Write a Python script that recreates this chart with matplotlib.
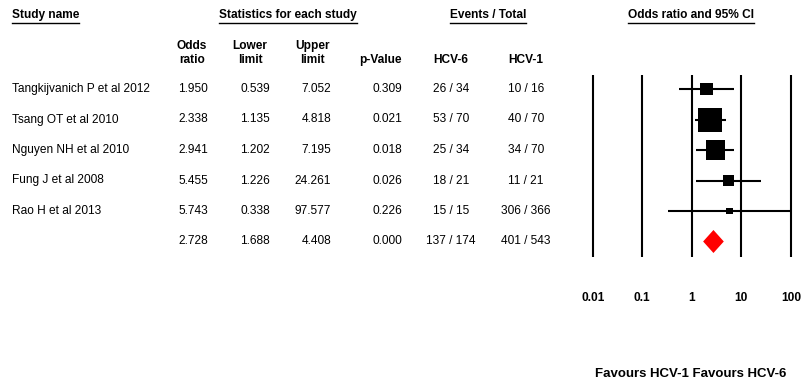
import numpy as np
import matplotlib
matplotlib.use("Agg")
from matplotlib import pyplot as plt
from matplotlib.lines import Line2D

plt.rcParams['font.family'] = ['Liberation Sans', 'DejaVu Sans']

# --- data ---
studies = ["Tangkijvanich P et al 2012", "Tsang OT et al 2010", "Nguyen NH et al 2010",
           "Fung J et al 2008", "Rao H et al 2013"]
odds_ratio = [1.950, 2.338, 2.941, 5.455, 5.743]
lower_limit = [0.539, 1.135, 1.202, 1.226, 0.338]
upper_limit = [7.052, 4.818, 7.195, 24.261, 97.577]
p_values = [0.309, 0.021, 0.018, 0.026, 0.226]
hcv6_events = [26, 53, 25, 18, 15]
hcv6_total = [34, 70, 34, 21, 15]
hcv1_events = [10, 40, 34, 11, 306]
hcv1_total = [16, 70, 70, 21, 366]
rel_weight = [13.2, 45.1, 28.3, 9.5, 3.8]  # relative weights (%)

pooled_or = 2.728
pooled_lower = 1.688
pooled_upper = 4.408
pooled_p = 0.000
pooled_hcv6 = (137, 174)
pooled_hcv1 = (401, 543)

tick_vals = [0.01, 0.1, 1, 10, 100]
tick_labels = ["0.01", "0.1", "1", "10", "100"]

# --- layout (pixels) ---
W, H = 806, 389
fig = plt.figure(figsize=(W / 100, H / 100), dpi=100)


def fx(x):
    return x / W


def fy(y):
    return 1 - y / H


FS = 8.6
row_y0, row_dy = 89, 30.5
row_px = [row_y0 + row_dy * i for i in range(6)]

# group headers with underlines
headers = [("Study name", 12, 'left'), ("Statistics for each study", 288, 'center'),
           ("Events / Total", 488, 'center'), ("Odds ratio and 95% CI", 691, 'center')]
hdr_texts = []
for txt, x, ha in headers:
    t = fig.text(fx(x), fy(15), txt, ha=ha, va='center', fontsize=FS, fontweight='bold')
    hdr_texts.append(t)

fig.canvas.draw()
rend = fig.canvas.get_renderer()
for t in hdr_texts:
    bb = t.get_window_extent(rend)
    x0, x1 = bb.x0 / W, bb.x1 / W
    fig.add_artist(Line2D([x0, x1], [fy(23), fy(23)], color='black', lw=1.0))

# column headers
col_heads = [(["Odds", "ratio"], 192), (["Lower", "limit"], 250), (["Upper", "limit"], 312),
             (["p-Value"], 380), (["HCV-6"], 451), (["HCV-1"], 526)]
for words, x in col_heads:
    ys = [46, 60] if len(words) == 2 else [60]
    for w, y in zip(words, ys):
        fig.text(fx(x), fy(y), w, ha='center', va='center', fontsize=FS, fontweight='bold')

# table rows
names = studies + [""]
ors = odds_ratio + [pooled_or]
los = lower_limit + [pooled_lower]
ups = upper_limit + [pooled_upper]
ps = p_values + [pooled_p]
e6 = [f"{e} / {t}" for e, t in zip(hcv6_events, hcv6_total)] + ["%d / %d" % pooled_hcv6]
e1 = [f"{e} / {t}" for e, t in zip(hcv1_events, hcv1_total)] + ["%d / %d" % pooled_hcv1]

for i, y in enumerate(row_px):
    fig.text(fx(12), fy(y), names[i], ha='left', va='center', fontsize=FS)
    fig.text(fx(208), fy(y), f"{ors[i]:.3f}", ha='right', va='center', fontsize=FS)
    fig.text(fx(270), fy(y), f"{los[i]:.3f}", ha='right', va='center', fontsize=FS)
    fig.text(fx(331), fy(y), f"{ups[i]:.3f}", ha='right', va='center', fontsize=FS)
    fig.text(fx(402), fy(y), f"{ps[i]:.3f}", ha='right', va='center', fontsize=FS)
    fig.text(fx(451), fy(y), e6[i], ha='center', va='center', fontsize=FS)
    fig.text(fx(526), fy(y), e1[i], ha='center', va='center', fontsize=FS)

# --- forest plot axes ---
x_lo_px, x_hi_px = 592.7, 791.0
dec = (x_hi_px - x_lo_px) / 4
ax_l, ax_r = 578, 805
ax_t, ax_b = 75, 257
ax = fig.add_axes([fx(ax_l), fy(ax_b), (ax_r - ax_l) / W, (ax_b - ax_t) / H])
ax.set_xscale('log')
ax.set_xlim(10 ** (-2 - (x_lo_px - ax_l) / dec), 10 ** (2 + (ax_r - x_hi_px) / dec))
ax.set_ylim((ax_b - row_y0) / row_dy, (ax_t - row_y0) / row_dy)
for s in ax.spines.values():
    s.set_visible(False)
ax.set_yticks([])
ax.set_xticks(tick_vals, tick_labels)
ax.minorticks_off()
ax.tick_params(axis='x', length=0, pad=25, labelsize=FS)
for lab in ax.get_xticklabels():
    lab.set_fontweight('bold')

for v in tick_vals:
    ax.axvline(v, color='black', lw=1.5)

rows = np.arange(len(studies))
ax.hlines(rows, lower_limit, upper_limit, color='black', lw=1.5, zorder=3)
side_px = 24 * np.sqrt(np.array(rel_weight) / max(rel_weight))
ax.scatter(odds_ratio, rows, marker='s', s=(side_px * 0.72) ** 2, color='black',
           linewidths=0, zorder=4)

yd = len(studies)
hh = 11.5 / row_dy
ax.fill([pooled_lower, pooled_or, pooled_upper, pooled_or],
        [yd, yd - hh, yd, yd + hh], color='red', lw=0, zorder=4)

fig.text(fx(595), fy(374), "Favours HCV-1 Favours HCV-6", ha='left', va='center',
         fontsize=9.5, fontweight='bold')

fig.savefig("out.png", dpi=100)
